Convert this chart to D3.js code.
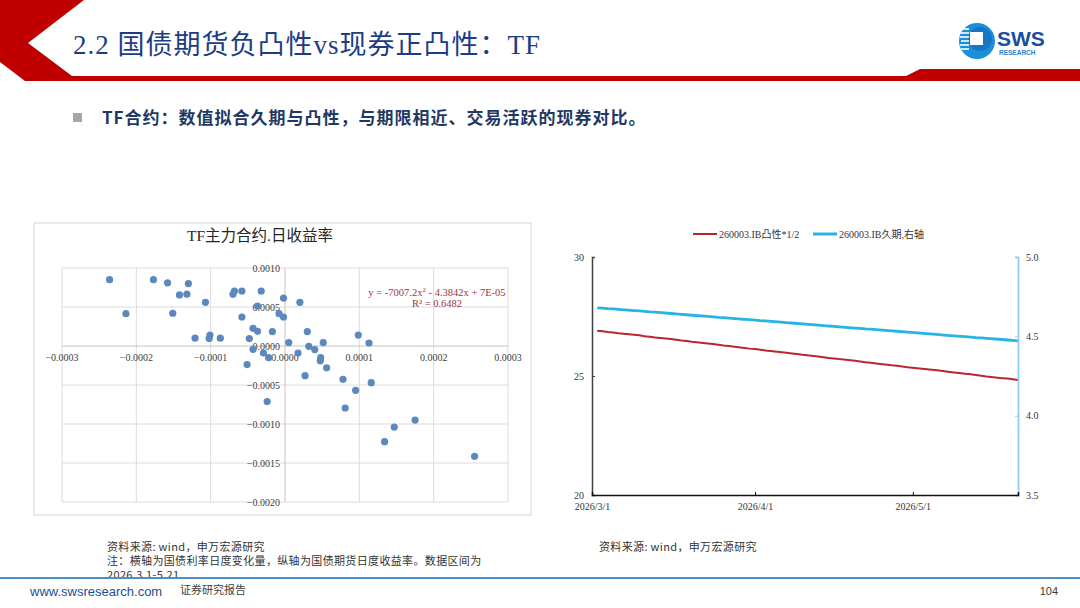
<!DOCTYPE html>
<html>
<head>
<meta charset="utf-8">
<script src="https://cdn.jsdelivr.net/npm/d3@7"></script>
<style>
  html, body { margin: 0; padding: 0; background: #fff; }
  svg { display: block; }
</style>
</head>
<body>
<div id="chart"></div>
<script>
// ---- scatter: TF daily return vs bond yield daily change ----
const scatterX = [
  -0.000236, -0.000214, -0.000177, -0.000158, -0.000130, -0.000142, -0.000132, -0.000107,
  -0.000151, -0.000121, -0.000101, -0.000102, -0.000087, -0.000070, -0.000068, -0.000058,
  -0.000032, -0.000058, -0.000037, -0.000002, 0.000020, -0.000008, -0.000002, -0.000043,
  -0.000037, -0.000017, 0.000030, -0.000048, -0.000043, -0.000029, -0.000022, -0.000051,
  0.000005, 0.0000175, 0.000032, 0.000040, 0.0000515, 0.000048, 0.0000475, 0.000056,
  0.000027, 0.000078, 0.000095, 0.000116, 0.0000986, 0.000113, -0.000024, 0.000081,
  0.000175, 0.000147, 0.000134, 0.000255
];
const scatterY = [
  0.00085, 0.000415, 0.00085, 0.00081, 0.0008, 0.000655, 0.000665, 0.00056,
  0.00042, 0.0001, 0.00014, 0.000095, 0.0001, 0.000663, 0.000705, 0.000705,
  0.000705, 0.000372, 0.00051, 0.000615, 0.00056, 0.000415, 0.000372, 0.000227,
  0.000188, 0.000185, 0.000185, 0.000095, -0.000042, -0.00009, -0.00015, -0.000238,
  0.000044, -0.00009, -0.000004, -0.000046, 0.000044, -0.00015, -0.00019, -0.00028,
  -0.00038, -0.000427, -0.000568, -0.00047, 0.00014, 0.0000385, -0.000713, -0.000795,
  -0.00095, -0.00104, -0.001226, -0.001414
];
const scatterXTicks = [-0.0003, -0.0002, -0.0001, 0, 0.0001, 0.0002, 0.0003];
const scatterYTicks = [0.001, 0.0005, 0, -0.0005, -0.001, -0.0015, -0.002];
const trendText = ["y = -7007.2x", "2", " - 4.3842x + 7E-05"];
const r2Text = "R² = 0.6482";

// ---- line chart: 260003.IB convexity*1/2 and duration ----
const dates = [
  "2026-03-02","2026-03-03","2026-03-04","2026-03-05","2026-03-06","2026-03-09","2026-03-10",
  "2026-03-11","2026-03-12","2026-03-13","2026-03-16","2026-03-17","2026-03-18","2026-03-19",
  "2026-03-20","2026-03-23","2026-03-24","2026-03-25","2026-03-26","2026-03-27","2026-03-30",
  "2026-03-31","2026-04-01","2026-04-02","2026-04-03","2026-04-07","2026-04-08","2026-04-09",
  "2026-04-10","2026-04-13","2026-04-14","2026-04-15","2026-04-16","2026-04-17","2026-04-20",
  "2026-04-21","2026-04-22","2026-04-23","2026-04-24","2026-04-27","2026-04-28","2026-04-29",
  "2026-04-30","2026-05-06","2026-05-07","2026-05-08","2026-05-11","2026-05-12","2026-05-13",
  "2026-05-14","2026-05-15","2026-05-18","2026-05-19","2026-05-20","2026-05-21"
];
const convexity = [
  26.90, 26.88, 26.85, 26.83, 26.80, 26.73, 26.71, 26.67, 26.65, 26.62, 26.55,
  26.52, 26.49, 26.47, 26.44, 26.37, 26.34, 26.31, 26.28, 26.26, 26.18, 26.15,
  26.13, 26.10, 26.07, 25.98, 25.95, 25.92, 25.89, 25.82, 25.79, 25.76, 25.74,
  25.71, 25.64, 25.61, 25.58, 25.56, 25.53, 25.45, 25.43, 25.40, 25.37, 25.23,
  25.20, 25.17, 25.09, 25.07, 25.04, 25.01, 24.98, 24.91, 24.89, 24.86, 24.83
];
const duration = [
  4.680, 4.678, 4.675, 4.673, 4.670, 4.662, 4.660, 4.657, 4.654, 4.652, 4.644,
  4.641, 4.639, 4.636, 4.633, 4.626, 4.623, 4.620, 4.618, 4.615, 4.607, 4.605,
  4.602, 4.599, 4.597, 4.586, 4.584, 4.581, 4.578, 4.571, 4.568, 4.565, 4.563,
  4.560, 4.552, 4.550, 4.547, 4.545, 4.542, 4.534, 4.532, 4.529, 4.526, 4.511,
  4.508, 4.505, 4.498, 4.495, 4.492, 4.490, 4.487, 4.480, 4.477, 4.474, 4.471
];
const leftTicks = [20, 25, 30];
const rightTicks = [3.5, 4.0, 4.5, 5.0];
const dateTicks = ["2026-03-01", "2026-04-01", "2026-05-01"];
const seriesNames = ["260003.IB凸性*1/2", "260003.IB久期,右轴"];
const seriesColors = ["#b8262f", "#26b4e3"];

const width = 1080;
const height = 608;
const serif = "'Liberation Serif', 'Noto Sans CJK SC', serif";
const cjk = "'Noto Sans CJK SC', 'Noto Sans', sans-serif";

const svg = d3.select("#chart").append("svg")
    .attr("width", width)
    .attr("height", height);

// ---------- header ----------
svg.append("polygon")
    .attr("points", "0,0 84,0 28,43 72,76 906,76 920,69 1080,69 1080,81 25,81 0,62")
    .attr("fill", "#c00000");

svg.append("text")
    .attr("x", 73).attr("y", 54)
    .attr("font-family", serif)
    .attr("font-size", 27)
    .attr("letter-spacing", 1)
    .attr("fill", "#1c3c84")
    .text("2.2 国债期货负凸性vs现券正凸性：TF");

// logo
const logo = svg.append("g");
logo.append("circle").attr("cx", 977).attr("cy", 41).attr("r", 18).attr("fill", "#1b8fd8");
logo.append("circle").attr("cx", 980).attr("cy", 39).attr("r", 12).attr("fill", "#1576c4");
logo.append("rect").attr("x", 970).attr("y", 32).attr("width", 13).attr("height", 13).attr("fill", "#fff");
[29, 33, 37, 41, 45, 49].forEach((yy, i) => {
  logo.append("line")
      .attr("x1", 960 + (i % 2)).attr("x2", 969)
      .attr("y1", yy).attr("y2", yy)
      .attr("stroke", "#fff").attr("stroke-width", 1.6);
});
logo.append("text")
    .attr("x", 997).attr("y", 46)
    .attr("font-family", "'Liberation Sans', Arial, sans-serif")
    .attr("font-weight", "bold")
    .attr("font-size", 21)
    .attr("fill", "#1a4fa0")
    .text("SWS");
logo.append("text")
    .attr("x", 999).attr("y", 55)
    .attr("font-family", "'Liberation Sans', Arial, sans-serif")
    .attr("font-weight", "bold")
    .attr("font-size", 6.5)
    .attr("fill", "#2a7fc8")
    .text("RESEARCH");

// bullet line
svg.append("rect")
    .attr("x", 73).attr("y", 113).attr("width", 9).attr("height", 9)
    .attr("fill", "#a6a6a6");
svg.append("text")
    .attr("x", 102).attr("y", 124)
    .attr("font-family", cjk)
    .attr("font-weight", "bold")
    .attr("font-size", 17)
    .attr("letter-spacing", 1)
    .attr("fill", "#1f3864")
    .text("TF合约：数值拟合久期与凸性，与期限相近、交易活跃的现券对比。");

// ---------- scatter chart ----------
const sc = svg.append("g");
sc.append("rect")
    .attr("x", 34).attr("y", 223).attr("width", 497).attr("height", 292)
    .attr("fill", "#fff").attr("stroke", "#e3e3e3").attr("stroke-width", 1.5);

sc.append("text")
    .attr("x", 260).attr("y", 241)
    .attr("text-anchor", "middle")
    .attr("font-family", serif)
    .attr("font-size", 15.5)
    .attr("fill", "#262626")
    .text("TF主力合约.日收益率");

const x = d3.scaleLinear([-0.0003, 0.0003], [62, 508]);
const y = d3.scaleLinear([-0.002, 0.001], [502, 268]);
const fmt = d3.format(".4f");

sc.append("g")
    .selectAll("line")
    .data(scatterXTicks.filter(d => d !== 0))
    .join("line")
    .attr("x1", d => x(d)).attr("x2", d => x(d))
    .attr("y1", y(0.001)).attr("y2", y(-0.002))
    .attr("stroke", "#dcdcdc").attr("stroke-width", 1);

sc.append("g")
    .selectAll("line")
    .data(scatterYTicks.filter(d => d !== 0))
    .join("line")
    .attr("x1", x(-0.0003)).attr("x2", x(0.0003))
    .attr("y1", d => y(d)).attr("y2", d => y(d))
    .attr("stroke", "#dcdcdc").attr("stroke-width", 1);

// axes through the origin
sc.append("line")
    .attr("x1", x(0)).attr("x2", x(0))
    .attr("y1", y(0.001)).attr("y2", y(-0.002))
    .attr("stroke", "#c4c4c4").attr("stroke-width", 1);
sc.append("line")
    .attr("x1", x(-0.0003)).attr("x2", x(0.0003))
    .attr("y1", y(0)).attr("y2", y(0))
    .attr("stroke", "#c4c4c4").attr("stroke-width", 1);

sc.append("g")
    .selectAll("text")
    .data(scatterXTicks)
    .join("text")
    .attr("x", d => x(d))
    .attr("y", y(0) + 15)
    .attr("text-anchor", "middle")
    .attr("font-family", serif)
    .attr("font-size", 10)
    .attr("fill", "#404040")
    .text(d => fmt(d));

sc.append("g")
    .selectAll("text")
    .data(scatterYTicks)
    .join("text")
    .attr("x", x(0) - 5)
    .attr("y", d => y(d) + 3.5)
    .attr("text-anchor", "end")
    .attr("font-family", serif)
    .attr("font-size", 10)
    .attr("fill", "#404040")
    .text(d => fmt(d));

sc.append("g")
    .selectAll("circle")
    .data(scatterX.map((v, i) => [v, scatterY[i]]))
    .join("circle")
    .attr("cx", d => x(d[0]))
    .attr("cy", d => y(d[1]))
    .attr("r", 3.6)
    .attr("fill", "#5b89bd");

const eq = sc.append("text")
    .attr("x", 437).attr("y", 296)
    .attr("text-anchor", "middle")
    .attr("font-family", serif)
    .attr("font-size", 10.5)
    .attr("fill", "#a0333d");
eq.append("tspan").text(trendText[0]);
eq.append("tspan").attr("dy", -4).attr("font-size", 7).text(trendText[1]);
eq.append("tspan").attr("dy", 4).text(trendText[2]);

sc.append("text")
    .attr("x", 437).attr("y", 307)
    .attr("text-anchor", "middle")
    .attr("font-family", serif)
    .attr("font-size", 10.5)
    .attr("fill", "#a0333d")
    .text(r2Text);

// ---------- line chart ----------
const lc = svg.append("g");
const parse = d3.timeParse("%Y-%m-%d");
const t = d3.scaleTime([parse("2026-03-01"), parse("2026-05-21")], [592, 1018]);
const yL = d3.scaleLinear([20, 30], [495, 257]);
const yR = d3.scaleLinear([3.5, 5.0], [495, 257]);

const rows = dates.map((d, i) => ({ date: parse(d), cvx: convexity[i], dur: duration[i] }));

lc.append("path")
    .datum(rows)
    .attr("fill", "none")
    .attr("stroke", seriesColors[0])
    .attr("stroke-width", 2)
    .attr("d", d3.line().x(d => t(d.date)).y(d => yL(d.cvx)));

lc.append("path")
    .datum(rows)
    .attr("fill", "none")
    .attr("stroke", seriesColors[1])
    .attr("stroke-width", 2.8)
    .attr("d", d3.line().x(d => t(d.date)).y(d => yR(d.dur)));

// left axis
lc.append("g")
    .attr("transform", "translate(592,0)")
    .call(d3.axisLeft(yL).tickValues(leftTicks).tickSize(-3).tickPadding(8).tickFormat(d3.format("d")))
    .call(g => g.select(".domain").attr("stroke", "#404040").attr("stroke-width", 1.5))
    .call(g => g.selectAll(".tick line").attr("stroke", "#404040"))
    .call(g => g.selectAll("text").attr("font-family", serif).attr("font-size", 10).attr("fill", "#333"));

// right axis
lc.append("g")
    .attr("transform", "translate(1018,0)")
    .call(d3.axisRight(yR).tickValues(rightTicks).tickSize(-3).tickPadding(8).tickFormat(d3.format(".1f")))
    .call(g => g.select(".domain").attr("stroke", "#8fd0ea").attr("stroke-width", 1.8))
    .call(g => g.selectAll(".tick line").attr("stroke", "#8fd0ea"))
    .call(g => g.selectAll("text").attr("font-family", serif).attr("font-size", 10).attr("fill", "#333"));

// bottom axis
lc.append("g")
    .attr("transform", "translate(0,495)")
    .call(d3.axisBottom(t).tickValues(dateTicks.map(parse)).tickSize(-3).tickPadding(8)
        .tickFormat(d3.timeFormat("%Y/%-m/%-d")))
    .call(g => g.select(".domain").attr("stroke", "#111").attr("stroke-width", 1.5))
    .call(g => g.selectAll(".tick line").attr("stroke", "#111"))
    .call(g => g.selectAll("text").attr("font-family", serif).attr("font-size", 10).attr("fill", "#333"));

// legend
const legendX = [693, 813];
seriesNames.forEach((name, i) => {
  lc.append("line")
      .attr("x1", legendX[i]).attr("x2", legendX[i] + 24)
      .attr("y1", 234).attr("y2", 234)
      .attr("stroke", seriesColors[i])
      .attr("stroke-width", i === 0 ? 2 : 3);
  lc.append("text")
      .attr("x", legendX[i] + 26).attr("y", 237.5)
      .attr("font-family", serif)
      .attr("font-size", 10)
      .attr("fill", "#333")
      .text(name);
});

// ---------- notes and footer ----------
const notes = [
  ["资料来源: wind，申万宏源研究", 107, 551],
  ["注：横轴为国债利率日度变化量，纵轴为国债期货日度收益率。数据区间为", 107, 565],
  ["2026.3.1-5.21", 107, 579],
  ["资料来源: wind，申万宏源研究", 599, 551]
];
svg.append("g")
    .selectAll("text")
    .data(notes)
    .join("text")
    .attr("x", d => d[1]).attr("y", d => d[2])
    .attr("font-family", cjk)
    .attr("font-size", 11)
    .attr("letter-spacing", 0.35)
    .attr("fill", "#333")
    .text(d => d[0]);

svg.append("line")
    .attr("x1", 0).attr("x2", width)
    .attr("y1", 578).attr("y2", 578)
    .attr("stroke", "#4a90c8").attr("stroke-width", 1.8);

svg.append("text")
    .attr("x", 30).attr("y", 596)
    .attr("font-family", "'Liberation Sans', Arial, sans-serif")
    .attr("font-size", 13)
    .attr("fill", "#1f4e8c")
    .text("www.swsresearch.com");
svg.append("text")
    .attr("x", 180).attr("y", 594)
    .attr("font-family", cjk)
    .attr("font-size", 11)
    .attr("fill", "#404040")
    .text("证券研究报告");
svg.append("text")
    .attr("x", 1058).attr("y", 595)
    .attr("text-anchor", "end")
    .attr("font-family", "'Liberation Sans', Arial, sans-serif")
    .attr("font-size", 11)
    .attr("fill", "#404040")
    .text("104");
</script>
</body>
</html>
